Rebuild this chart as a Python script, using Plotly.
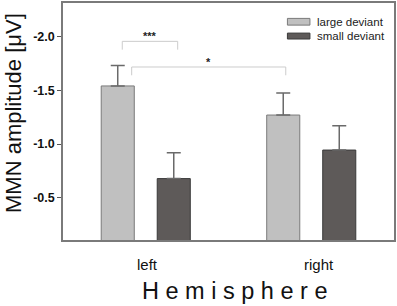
import plotly.graph_objects as go

# ---- data ----
hemispheres = ["left", "right"]
series_names = ["large deviant", "small deviant"]
large_vals = [-1.54, -1.27]
large_err = [0.19, 0.205]
small_vals = [-0.68, -0.945]
small_err = [0.24, 0.225]
y_ticks = [-2.0, -1.5, -1.0, -0.5]
y_tick_labels = ["-2.0", "-1.5", "-1.0", "-0.5"]

# significance brackets: (x0, x1, y_top, y_leg, label)
brackets = [
    (-0.142, 0.193, -1.954, -1.877, "***"),
    (-0.085, 0.846, -1.716, -1.639, "*"),
]

fills = ["#c0c0c0", "#5e5a59"]
edges = ["#7a7a7a", "#3a3a3a"]

fig = go.Figure()
for name, vals, errs, fc, ec in zip(series_names, [large_vals, small_vals],
                                     [large_err, small_err], fills, edges):
    fig.add_trace(go.Bar(
        x=hemispheres, y=vals, name=name,
        marker=dict(color=fc, line=dict(color=ec, width=1)),
        error_y=dict(type="data", symmetric=False, array=[0] * len(errs),
                     arrayminus=errs, color="#6a6a6a", thickness=1.5, width=7),
        showlegend=False,
    ))

shapes = []
annotations = []
for x0, x1, yt, yl, lab in brackets:
    shapes.append(dict(type="path", xref="x", yref="y",
                       path=f"M {x0},{yl} L {x0},{yt} L {x1},{yt} L {x1},{yl}",
                       line=dict(color="#cccccc", width=1)))
    annotations.append(dict(x=(x0 + x1) / 2, y=yt, xref="x", yref="y", text=f"<b>{lab}</b>",
                            showarrow=False, yanchor="bottom", yshift=-3,
                            font=dict(family="Liberation Sans, Arial", size=11, color="#222")))

# manual legend
leg_rows = [(0.9067, 0.935), (0.848, 0.873)]
for (y0, y1), name, fc, ec in zip(leg_rows, series_names, fills, edges):
    shapes.append(dict(type="rect", xref="paper", yref="paper", x0=0.678, x1=0.746,
                       y0=y0, y1=y1, fillcolor=fc, line=dict(color=ec, width=1)))
    annotations.append(dict(x=0.761, y=(y0 + y1) / 2, xref="paper", yref="paper",
                            text=name, showarrow=False, xanchor="left", yanchor="middle",
                            font=dict(family="Liberation Sans, Arial", size=11.5, color="#222")))

# x tick labels
for i, h in enumerate(hemispheres):
    annotations.append(dict(x=i, y=-0.105, xref="x", yref="paper", text=h, showarrow=False,
                            xshift=2 + 6 * i, yanchor="middle",
                            font=dict(family="Liberation Sans, Arial", size=15, color="#111")))

# axis titles
annotations.append(dict(x=0.518, y=-0.216, xref="paper", yref="paper",
                        text="H e m i s p h e r e", showarrow=False, yanchor="middle",
                        font=dict(family="Liberation Sans, Arial", size=23.5, color="#111")))
annotations.append(dict(x=-0.148, y=0.536, xref="paper", yref="paper",
                        text="MMN amplitude [μV]", showarrow=False, textangle=-90,
                        xanchor="center", yanchor="middle",
                        font=dict(family="Liberation Sans, Arial", size=22, color="#111")))

fig.update_layout(
    width=397, height=306,
    margin=dict(l=63, r=3, t=1, b=66),
    paper_bgcolor="white", plot_bgcolor="white",
    barmode="group", bargap=0.323, bargroupgap=0.41,
    shapes=shapes, annotations=annotations,
    xaxis=dict(range=[-0.5, 1.5], showticklabels=False, ticks="", showgrid=False,
               showline=True, linecolor="#7a7a7a", linewidth=1.5, mirror=True, zeroline=False),
    yaxis=dict(range=[-0.11, -2.31], tickvals=y_ticks, ticktext=y_tick_labels,
               ticks="outside", ticklen=4, tickcolor="#555", showgrid=False, zeroline=False,
               showline=True, linecolor="#7a7a7a", linewidth=1.5, mirror=True,
               tickfont=dict(family="Liberation Sans, Arial", size=12.5, color="#111", weight="bold")),
)

fig.write_html("out.html", config={"displayModeBar": False},
               post_script="document.body.style.margin='0px';")
